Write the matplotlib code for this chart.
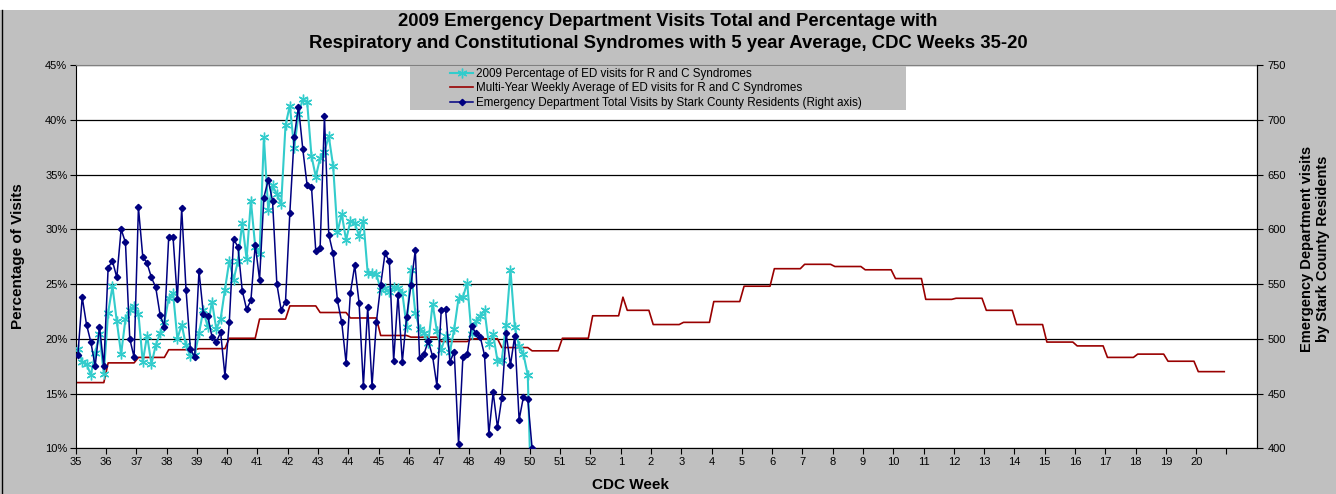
import numpy as np
import matplotlib
matplotlib.use('Agg')
import matplotlib.pyplot as plt
from matplotlib.patches import Rectangle

plt.rcParams['font.family'] = ['Liberation Sans', 'DejaVu Sans']

# ---------------- data ----------------
week_labels = [str(w) for w in list(range(35, 53)) + list(range(1, 21))] + ['']

# daily 2009 percentage of ED visits for R and C syndromes (left axis, %)
pct_2009 = [19.1, 17.9, 17.7, 16.7, 18.7, 20.4, 16.8, 22.4, 24.8, 21.6, 18.6, 21.8, 22.6, 23.0,
            22.3, 17.9, 20.3, 17.7, 19.4, 20.5, 21.5, 23.7, 24.2, 20.0, 21.3, 19.4, 18.4, 18.5,
            20.5, 22.6, 21.1, 23.4, 20.9, 21.8, 24.5, 27.1, 25.4, 27.1, 30.6, 27.3, 32.6, 28.4,
            27.7, 38.4, 31.8, 34.0, 33.2, 32.3, 39.5, 41.3, 37.4, 40.5, 41.9, 41.6, 36.7, 34.8,
            36.5, 37.1, 38.5, 35.8, 29.75, 31.4, 29.0, 30.75, 30.6, 29.4, 30.8, 26.0, 26.0, 25.9,
            24.5, 24.6, 24.3, 24.7, 24.6, 24.2, 21.1, 26.3, 22.4, 20.9, 20.5, 19.6, 23.2,
            20.7, 19.0, 20.25, 18.8, 20.9, 23.7, 23.8, 25.1, 20.4, 21.6, 22.1, 22.6, 19.5, 20.4,
            18.0, 18.1, 21.3, 26.3, 21.1, 19.3, 18.6, 16.7, 2.3]

# daily ED total visits by Stark County residents (right axis)
ed_visits = [485, 538, 513, 497, 475, 511, 475, 565, 571, 556, 600, 588, 500, 483,
             620, 575, 569, 556, 547, 522, 511, 593, 593, 536, 619, 545, 491, 483,
             562, 523, 521, 502, 497, 506, 466, 515, 591, 584, 544, 527, 535, 586,
             554, 629, 645, 626, 550, 526, 534, 615, 684, 712, 673, 640, 639, 580,
             583, 703, 595, 578, 535, 515, 478, 542, 567, 533, 457, 529, 457, 515,
             549, 578, 571, 480, 540, 479, 520, 549, 581, 482, 486, 498, 484,
             457, 526, 527, 479, 488, 404, 483, 486, 512, 505, 502, 485, 413, 451,
             419, 446, 505, 476, 503, 426, 447, 445, 400]

# multi-year weekly average (%), weeks 35..52, 1..20
avg_weekly = [16.0, 17.8, 18.3, 19.0, 19.1, 20.05, 21.8, 23.0, 22.4, 21.9, 20.3, 20.15,
              19.75, 20.0, 19.2, 18.9, 20.05, 22.1, 22.6, 21.3, 21.5, 23.4, 24.8, 26.4,
              26.8, 26.6, 26.3, 25.5, 23.6, 23.7, 22.6, 21.3, 19.7, 19.35, 18.3, 18.6,
              17.95, 17.0]
avg_day_overrides = {126: 23.8}

# ---------------- figure ----------------
W, H = 1336, 494
fig = plt.figure(figsize=(W / 100, H / 100), dpi=100)
fig.patch.set_facecolor('#C0C0C0')
fig.add_artist(Rectangle((0, 1 - 10 / H), 1, 10 / H, transform=fig.transFigure,
                         facecolor='white', edgecolor='none', zorder=-5))
fig.add_artist(plt.Line2D([1.5 / W, 1.5 / W], [0, 1 - 10 / H], transform=fig.transFigure,
                          color='black', lw=1, zorder=-4))

L, R, T, B = 75.7, 1256.7, 65.0, 448.3
ax = fig.add_axes([L / W, 1 - B / H, (R - L) / W, (B - T) / H])
ax.set_facecolor('white')
ax.set_xlim(0, 39)
ax.set_ylim(10, 45)
ax.set_yticks(range(10, 50, 5))
ax.set_yticklabels([f'{v}%' for v in range(10, 50, 5)])
ax.set_xticks(range(len(week_labels)))
ax.set_xticklabels(week_labels)
ax.yaxis.grid(True, color='black', lw=0.9)
ax.set_axisbelow(True)
for s in ['left', 'bottom', 'right']:
    ax.spines[s].set_color('black')
ax.spines['top'].set_color('#808080')
ax.tick_params(axis='x', direction='out', length=4, labelsize=8, pad=2, width=0.8)
ax.tick_params(axis='y', direction='out', length=4, labelsize=8, pad=2, width=0.8)

ax2 = ax.twinx()
ax2.set_ylim(400, 750)
ax2.set_yticks(range(400, 800, 50))
ax2.tick_params(axis='y', direction='out', length=4, labelsize=8, pad=4, width=0.8)
for s in ['top', 'left', 'bottom']:
    ax2.spines[s].set_visible(False)
ax2.spines['right'].set_color('black')

x_days = (np.arange(len(pct_2009)) + 0.5) / 7.0
avg_daily = np.repeat(np.array(avg_weekly, dtype=float), 7)
for d, v in avg_day_overrides.items():
    avg_daily[d] = v
x_avg = (np.arange(len(avg_daily)) + 0.5) / 7.0

l1, = ax.plot(x_days, pct_2009, color='#33CCCC', lw=1.5, marker=(6, 2, 0), ms=7, mew=1.0,
              label='2009 Percentage of ED visits for R and C Syndromes', zorder=3)
l2, = ax.plot(x_avg, avg_daily, color='#990000', lw=1.2,
              label='Multi-Year Weekly Average of ED visits for R and C Syndromes', zorder=2)
l3, = ax2.plot(x_days, ed_visits, color='#000080', lw=1.1, marker='D', ms=3.2,
               label='Emergency Department Total Visits by Stark County Residents (Right axis)')

# legend box
fig.add_artist(Rectangle((410 / W, 1 - 110 / H), 496 / W, 44.3 / H, transform=fig.transFigure,
                         facecolor='#C0C0C0', edgecolor='none', zorder=10))
leg = fig.legend(handles=[l1, l2, l3], loc='upper left', bbox_to_anchor=(450 / W, 1 - 68 / H),
                 frameon=False, fontsize=8.4, borderpad=0, borderaxespad=0, handlelength=2.0,
                 handletextpad=0.25, labelspacing=0.2)
leg.set_zorder(11)

# titles and labels
fig.text(0.5, 1 - 22 / H, '2009 Emergency Department Visits Total and Percentage with',
         ha='center', va='center', fontsize=13.3, fontweight='bold')
fig.text(0.5, 1 - 43 / H, 'Respiratory and Constitutional Syndromes with 5 year Average, CDC Weeks 35-20',
         ha='center', va='center', fontsize=13.3, fontweight='bold')
fig.text(18 / W, 1 - 256 / H, 'Percentage of Visits', rotation=90, ha='center', va='center',
         fontsize=11, fontweight='bold')
fig.text(1315 / W, 1 - 249 / H, 'Emergency Department visits\nby Stark County Residents',
         rotation=90, ha='center', va='center', fontsize=10.5, fontweight='bold',
         multialignment='center', linespacing=1.2)
fig.text(631 / W, 1 - 485 / H, 'CDC Week', ha='center', va='center', fontsize=11,
         fontweight='bold')

fig.savefig('out.png', dpi=100, facecolor=fig.get_facecolor())
